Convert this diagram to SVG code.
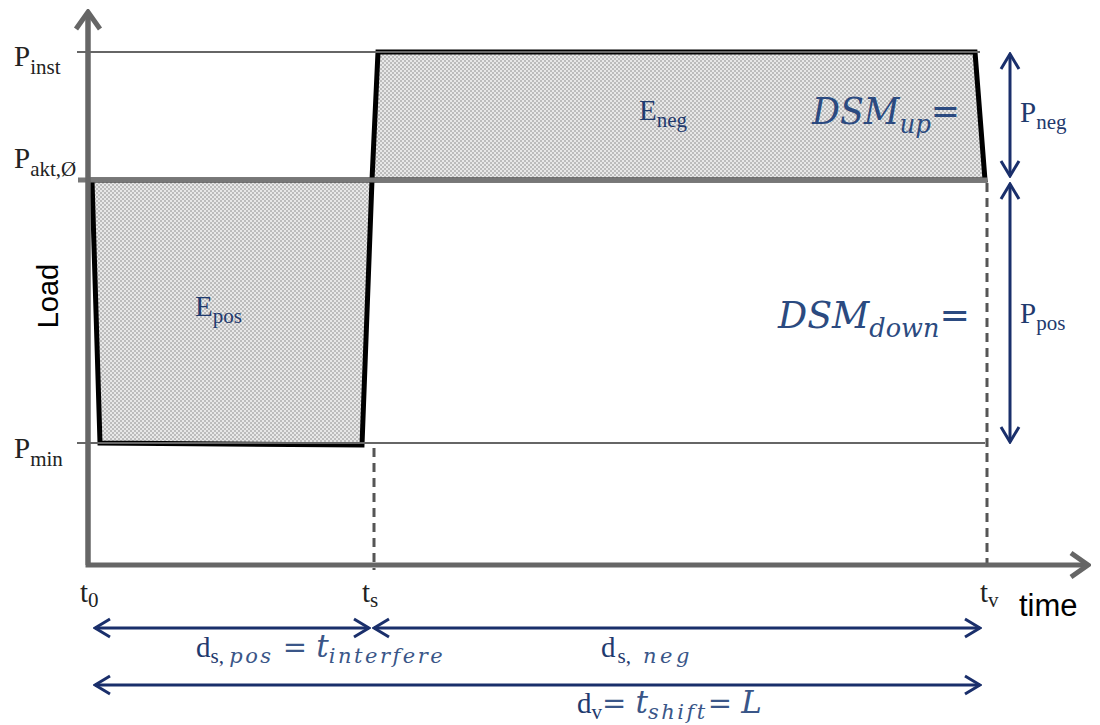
<svg xmlns="http://www.w3.org/2000/svg" width="1100" height="725" viewBox="0 0 1100 725">
<defs>
<pattern id="chk" width="4" height="4" patternUnits="userSpaceOnUse">
<rect width="4" height="4" fill="#e8e8e8"/>
<rect width="2" height="2" fill="#bcbcbc"/>
<rect x="2" y="2" width="2" height="2" fill="#bcbcbc"/>
</pattern>
<marker id="ah" viewBox="0 0 22 22" refX="20" refY="11" markerWidth="22" markerHeight="22" markerUnits="userSpaceOnUse" orient="auto-start-reverse">
<path d="M5,2 L20,11 L5,20" fill="none" stroke="#1a2f6b" stroke-width="3"/>
</marker>
<marker id="ax" viewBox="0 0 30 30" refX="27" refY="15" markerWidth="30" markerHeight="30" markerUnits="userSpaceOnUse" orient="auto">
<path d="M10,3 L27,15 L10,27" fill="none" stroke="#666" stroke-width="5"/>
</marker>
</defs>
<style>
.lbl{font-family:"Liberation Serif","DejaVu Serif",serif;fill:#222;font-size:29px}
.sub{font-size:21px}
.blu{font-family:"Liberation Serif","DejaVu Serif",serif;fill:#1f3a6e;font-size:29px}
.m{font-family:"DejaVu Serif","Liberation Serif",serif;fill:#3a5688}
.i{font-style:italic}
.ls{letter-spacing:2.5px}
.mth{font-family:"DejaVu Serif","Liberation Serif",serif;font-style:italic;fill:#2b4a80}
.arr{stroke:#1a2f6b;stroke-width:3;fill:none;marker-start:url(#ah);marker-end:url(#ah)}
.thin{stroke:#666;stroke-width:2}
.dash{stroke:#555;stroke-width:3;stroke-dasharray:9,6}
.prof{fill:url(#chk);stroke:#000;stroke-width:5;stroke-linejoin:miter}
</style>
<rect width="1100" height="725" fill="#fff"/>
<g id="areas">
<polygon class="prof" points="92,180 100,443 362,445 372,180"/>
<polygon class="prof" points="372,180 378,52 975,52 985,180"/>
</g>
<g id="levels">
<line class="thin" x1="77" y1="52" x2="980" y2="52"/>
<line class="thin" x1="77" y1="443" x2="985" y2="443"/>
<line x1="78" y1="180" x2="987" y2="180" stroke="#777" stroke-width="5"/>
<line class="dash" x1="374" y1="448" x2="374" y2="570"/>
<line class="dash" x1="987" y1="183" x2="987" y2="570"/>
</g>
<g id="axes">
<polyline points="88,12 88,565 1088,565" fill="none" stroke="#666" stroke-width="5" marker-end="url(#ax)"/>
<line x1="88" y1="565" x2="88" y2="12" stroke="#666" stroke-width="5" marker-end="url(#ax)"/>
</g>
<g id="axis-labels">
<text class="lbl" x="14" y="66">P<tspan class="sub" dy="8">inst</tspan></text>
<text class="lbl" x="14" y="168">P<tspan class="sub" dy="8">akt,Ø</tspan></text>
<text class="lbl" x="14" y="458">P<tspan class="sub" dy="8">min</tspan></text>
<text x="58" y="296" transform="rotate(-90 58 296)" text-anchor="middle" font-family="Liberation Sans,Arial,sans-serif" font-size="29" fill="#000">Load</text>
<text class="lbl" x="80" y="602">t<tspan class="sub" dy="5">0</tspan></text>
<text class="lbl" x="362" y="602">t<tspan class="sub" dy="5">s</tspan></text>
<text class="lbl" x="980" y="602">t<tspan class="sub" dy="5">v</tspan></text>
<text x="1019" y="616" font-family="Liberation Sans,Arial,sans-serif" font-size="31" fill="#000">time</text>
</g>
<g id="area-labels">
<text class="blu" x="195" y="316">E<tspan class="sub" dy="7">pos</tspan></text>
<text class="blu" x="639" y="120">E<tspan class="sub" dy="7">neg</tspan></text>
<text class="mth" x="812" y="124" font-size="37" textLength="148" lengthAdjust="spacingAndGlyphs">DSM<tspan font-size="26" dy="9">up</tspan><tspan dy="-9" font-style="normal">=</tspan></text>
<text class="mth" x="778" y="328" font-size="37" textLength="192" lengthAdjust="spacingAndGlyphs">DSM<tspan font-size="26" dy="9">down</tspan><tspan dy="-9" font-style="normal">=</tspan></text>
</g>
<g id="connectors">
<line class="arr" x1="1010" y1="54" x2="1010" y2="176"/>
<line class="arr" x1="1010" y1="184" x2="1010" y2="442"/>
<line class="arr" x1="95" y1="628" x2="369" y2="628"/>
<line class="arr" x1="374" y1="628" x2="980" y2="628"/>
<line class="arr" x1="95" y1="685" x2="980" y2="685"/>
</g>
<g id="dim-labels">
<text class="blu" x="1020" y="122">P<tspan class="sub" dy="7">neg</tspan></text>
<text class="blu" x="1020" y="323">P<tspan class="sub" dy="7">pos</tspan></text>
<text class="blu" x="196" y="657">d<tspan class="sub" dy="6">s,  </tspan><tspan class="sub m i ls">pos</tspan><tspan class="m" dy="-6"> = </tspan><tspan class="m i" font-size="31">t</tspan><tspan class="sub m i ls" dy="6">interfere</tspan></text>
<text class="blu" x="601" y="657">d<tspan class="sub" dy="6" dx="2">s,</tspan><tspan class="sub m i" dx="12" letter-spacing="3.5">neg</tspan></text>
<text class="blu" x="577" y="713">d<tspan class="sub" dy="6">v</tspan><tspan class="m" dy="-6">= </tspan><tspan class="m i" font-size="31">t</tspan><tspan class="sub m i ls" dy="6">shift</tspan><tspan class="m" dy="-6">= </tspan><tspan class="m i" font-size="31">L</tspan></text>
</g>
</svg>
